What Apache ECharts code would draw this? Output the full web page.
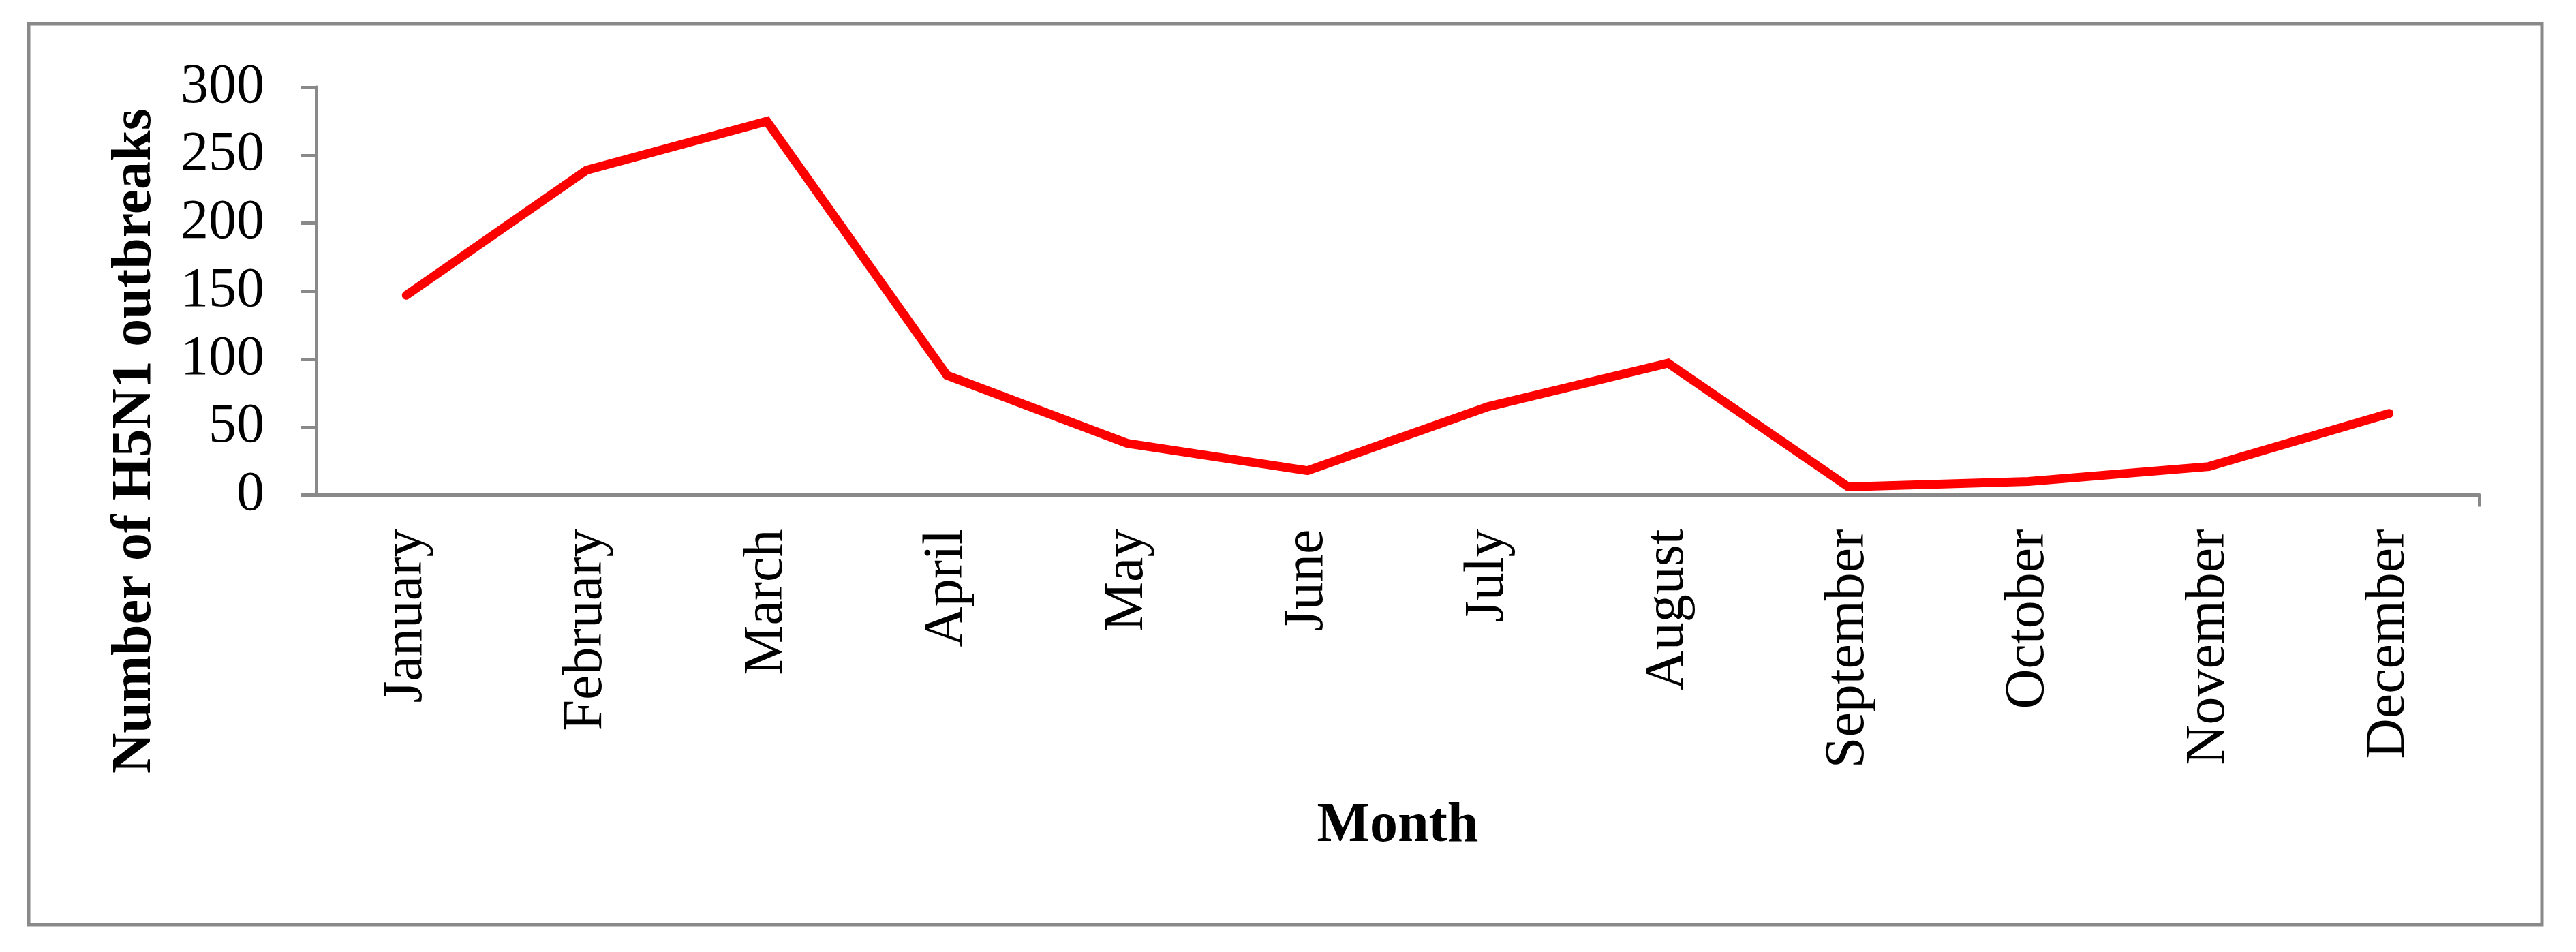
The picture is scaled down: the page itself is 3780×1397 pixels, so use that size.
<!DOCTYPE html>
<html>
<head>
<meta charset="utf-8">
<script src="https://cdn.jsdelivr.net/npm/echarts@6/dist/echarts.min.js"></script>
<style>
html,body{margin:0;padding:0;background:#fff;}
#chart{width:3780px;height:1397px;}
</style>
</head>
<body>
<div id="chart"></div>
<script>
const months = ['January','February','March','April','May','June','July','August','September','October','November','December'];
const outbreaks = [147, 239, 275, 88, 38, 18, 65, 97, 6, 10, 21, 60];
const yTicks = [0, 50, 100, 150, 200, 250, 300];

const chart = echarts.init(document.getElementById('chart'), null, {renderer: 'canvas'});
const axisGray = '#898989';
const font = '"Liberation Serif", "Times New Roman", serif';

// boundary positions of the category axis (used only to draw the closing tick at the right end)
const boundaries = months.map(() => '').concat(['']);

chart.setOption({
  backgroundColor: '#ffffff',
  animation: false,
  graphic: [{
    type: 'rect',
    shape: {x: 42, y: 35, width: 3688, height: 1322},
    style: {fill: 'none', stroke: axisGray, lineWidth: 5},
    silent: true
  }],
  grid: {left: 464, right: 142, top: 128, bottom: 670.5, containLabel: false},
  xAxis: [{
    type: 'category',
    data: months,
    boundaryGap: true,
    name: 'Month',
    nameLocation: 'middle',
    nameGap: 445,
    nameTextStyle: {fontFamily: font, fontSize: 82, fontWeight: 'bold', color: '#000'},
    axisLine: {lineStyle: {color: axisGray, width: 5}},
    axisTick: {alignWithLabel: true, length: 17, lineStyle: {color: axisGray, width: 5}},
    axisLabel: {rotate: 90, margin: 50, fontFamily: font, fontSize: 82, color: '#000', interval: 0},
    splitLine: {show: false}
  }, {
    type: 'category',
    data: boundaries,
    boundaryGap: false,
    position: 'bottom',
    axisLine: {show: false},
    axisLabel: {show: false},
    axisTick: {show: true, length: 17, interval: (i) => i === boundaries.length - 1, lineStyle: {color: axisGray, width: 5}},
    splitLine: {show: false}
  }],
  yAxis: {
    type: 'value',
    min: yTicks[0],
    max: yTicks[yTicks.length - 1],
    interval: yTicks[1] - yTicks[0],
    name: 'Number of H5N1 outbreaks',
    nameLocation: 'middle',
    nameRotate: 90,
    nameGap: 224,
    nameTextStyle: {fontFamily: font, fontSize: 82, fontWeight: 'bold', color: '#000', padding: [0, 440, 0, 0]},
    axisLine: {show: true, lineStyle: {color: axisGray, width: 5}},
    axisTick: {show: true, length: 22, lineStyle: {color: axisGray, width: 5}},
    axisLabel: {margin: 76, fontFamily: font, fontSize: 82, color: '#000'},
    splitLine: {show: false}
  },
  series: [{
    type: 'line',
    xAxisIndex: 0,
    data: outbreaks,
    showSymbol: false,
    symbol: 'none',
    lineStyle: {color: '#ff0000', width: 13, cap: 'round', join: 'miter'},
    itemStyle: {color: '#ff0000'}
  }]
});
</script>
</body>
</html>
